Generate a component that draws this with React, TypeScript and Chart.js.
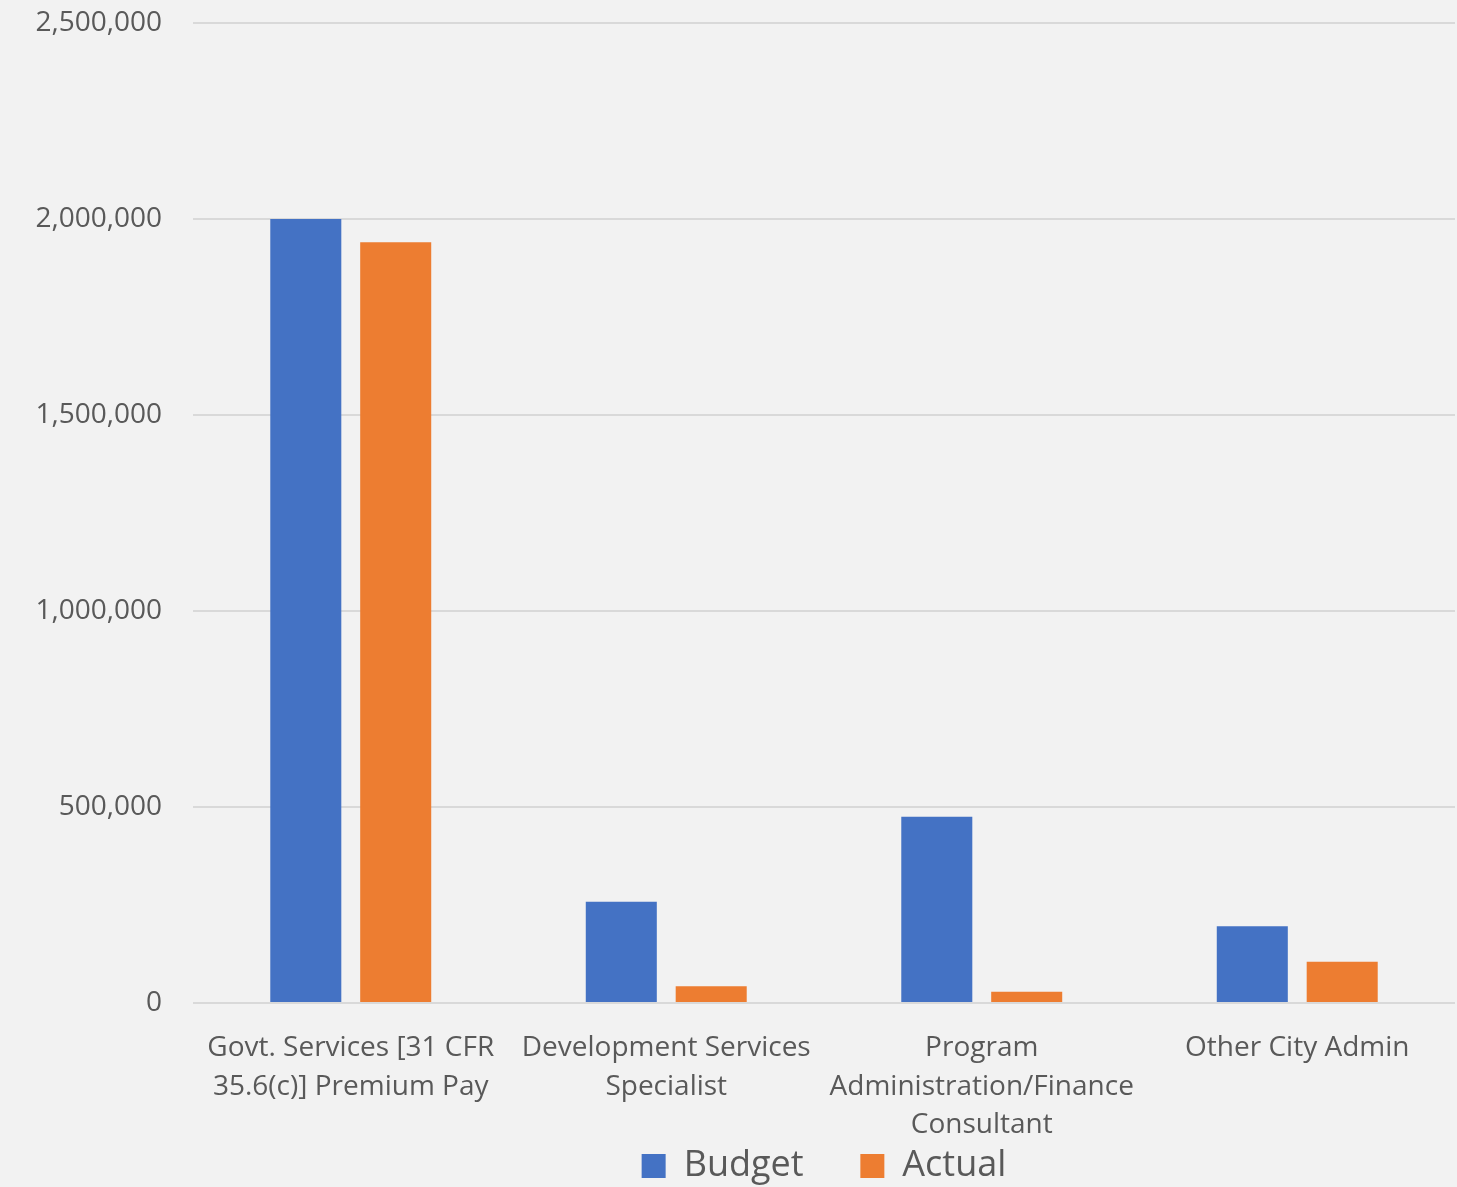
import React, { useEffect, useRef } from "react";
import { Chart, registerables } from "chart.js";

Chart.register(...registerables);

const categories: string[][] = [
  ["Govt. Services [31 CFR", "35.6(c)] Premium Pay"],
  ["Development Services", "Specialist"],
  ["Program", "Administration/Finance", "Consultant"],
  ["Other City Admin"],
];
const budgetValues = [2000000, 258000, 475000, 196000];
const actualValues = [1941000, 43000, 29000, 105000];
const yTicks = [0, 500000, 1000000, 1500000, 2000000, 2500000];

const FONT = "'Open Sans', sans-serif";
const TEXT = "#595959";

export default function App() {
  const ref = useRef<HTMLCanvasElement | null>(null);
  useEffect(() => {
    document.body.style.margin = "0";
    document.body.style.background = "#f2f2f2";
    const ctx = ref.current!;
    const chart = new Chart(ctx, {
      type: "bar",
      data: {
        labels: categories,
        datasets: [
          {
            label: "Budget",
            data: budgetValues,
            backgroundColor: "#4472c4",
            categoryPercentage: 0.57,
            barPercentage: 0.79,
          },
          {
            label: "Actual",
            data: actualValues,
            backgroundColor: "#ed7d31",
            categoryPercentage: 0.57,
            barPercentage: 0.79,
          },
        ],
      },
      options: {
        animation: false,
        responsive: false,
        maintainAspectRatio: false,
        layout: { padding: { left: 0, right: 2, top: 23, bottom: 0 } },
        plugins: {
          tooltip: { enabled: false },
          legend: {
            position: "bottom",
            fullSize: false,
            maxHeight: 49,
            labels: {
              color: TEXT,
              font: { family: FONT, size: 36 },
              boxWidth: 24,
              boxHeight: 24,
              padding: 10,
              generateLabels: (c: any) => {
                const items = Chart.defaults.plugins.legend.labels.generateLabels(c);
                items.forEach((it: any, i: number) => {
                  if (i === 0) it.text = it.text + "     ";
                });
                return items;
              },
            },
          },
        },
        scales: {
          x: {
            grid: { display: false },
            border: { display: false },
            afterFit: (s: any) => {
              s.height = 135;
            },
            ticks: {
              color: TEXT,
              font: { family: FONT, size: 28, lineHeight: 1.375 },
              maxRotation: 0,
              autoSkip: false,
              padding: 18,
            },
          },
          y: {
            min: 0,
            max: 2500000,
            afterBuildTicks: (axis: any) => {
              axis.ticks = yTicks.map((v) => ({ value: v }));
            },
            afterFit: (s: any) => {
              s.width = 193;
              s.paddingTop = 0;
              s.paddingBottom = 0;
            },
            grid: { color: "#d9d9d9", lineWidth: 2, drawTicks: false },
            border: { display: false },
            ticks: {
              color: TEXT,
              font: { family: FONT, size: 28 },
              padding: 31,
              callback: (v: any) => Number(v).toLocaleString("en-US"),
            },
          },
        },
      },
    });
    return () => chart.destroy();
  }, []);
  return (
    <div style={{ width: 1457, height: 1187, background: "#f2f2f2" }}>
      <canvas ref={ref} width={1457} height={1187} style={{ display: "block" }} />
    </div>
  );
}
